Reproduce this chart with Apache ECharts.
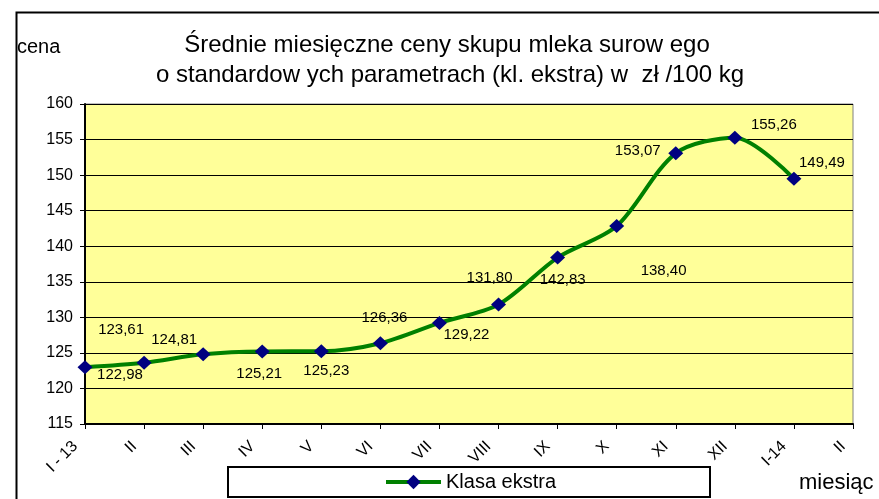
<!DOCTYPE html>
<html>
<head>
<meta charset="utf-8">
<script src="https://cdn.jsdelivr.net/npm/echarts@6/dist/echarts.min.js"></script>
<style>
html,body{margin:0;padding:0;background:#fff;}
#chart{width:879px;height:499px;}
</style>
</head>
<body>
<div id="chart"></div>
<script>
// ---- data ----
var categories = ['I - 13','II','III','IV','V','VI','VII','VIII','IX','X','XI','XII','I-14','II'];
var seriesName = 'Klasa ekstra';
var prices = [122.98, 123.61, 124.81, 125.21, 125.23, 126.36, 129.22, 131.80, 138.40, 142.83, 153.07, 155.26, 149.49];
var yTicks = {min: 115, max: 160, step: 5};
var titleLines = ['Średnie miesięczne ceny skupu mleka surow ego', 'o standardow ych parametrach (kl. ekstra) w  zł /100 kg'];
var yName = 'cena';
var xName = 'miesiąc';

// ---- label placement (layout only) ----
var labelOffsets = [[35,8],[-23,-33],[-29,-14],[-3,22],[5,20],[4,-25],[27,12],[-9,-27],[106,13],[-54,54],[-38,-2],[39,-13],[28,-16]];

var FONT = '"Liberation Sans", Arial, sans-serif';

var seriesData = prices.map(function (v, i) {
  return {
    value: v,
    label: { offset: labelOffsets[i] }
  };
});

var chart = echarts.init(document.getElementById('chart'), null, {renderer: 'canvas'});
chart.setOption({
  backgroundColor: '#ffffff',
  animation: false,
  textStyle: { fontFamily: FONT },
  grid: {
    left: 85, right: 26, top: 104, bottom: 75,
    show: true, backgroundColor: '#FFFF99', borderColor: '#808080', borderWidth: 1
  },
  graphic: [
    { type: 'rect', left: 14, top: 10, shape: {width: 864, height: 510},
      style: {fill: 'none', stroke: '#000', lineWidth: 2}, z: -1 },
    { type: 'rect', left: 227, top: 466, shape: {width: 482, height: 30},
      style: {fill: '#fff', stroke: '#000', lineWidth: 2}, z: 0 },
    { type: 'text', x: 447, y: 45, style: { text: titleLines[0], font: '24px ' + FONT, fill: '#000', textAlign: 'center', textVerticalAlign: 'middle' } },
    { type: 'text', x: 450, y: 75, style: { text: titleLines[1], font: '24px ' + FONT, fill: '#000', textAlign: 'center', textVerticalAlign: 'middle' } },
    { type: 'text', x: 17, y: 47, style: { text: yName, font: '20px ' + FONT, fill: '#000', textVerticalAlign: 'middle' } },
    { type: 'text', x: 799, y: 483, style: { text: xName, font: '22px ' + FONT, fill: '#000', textVerticalAlign: 'middle' } }
  ],
  legend: {
    data: [seriesName],
    left: 384, top: 472,
    padding: 0,
    itemWidth: 55, itemHeight: 18,
    itemGap: 6,
    lineStyle: { width: 4 },
    textStyle: { fontSize: 20, color: '#000', fontFamily: FONT, padding: [0, 0, 0, 0] },
    z: 5
  },
  xAxis: {
    type: 'category',
    data: categories,
    boundaryGap: false,
    axisLine: { lineStyle: { color: '#000', width: 2 } },
    axisTick: { show: true, length: 5, lineStyle: { color: '#000' } },
    axisLabel: { rotate: 45, fontSize: 16, color: '#000', margin: 10, interval: 0, fontFamily: FONT, padding: [0, 14, 0, 0] },
    splitLine: { show: false }
  },
  yAxis: {
    type: 'value',
    min: yTicks.min, max: yTicks.max, interval: yTicks.step,
    axisLine: { show: true, lineStyle: { color: '#000', width: 2 } },
    axisTick: { show: true, length: 5, lineStyle: { color: '#000' } },
    axisLabel: { fontSize: 16, color: '#000', margin: 12, fontFamily: FONT },
    splitLine: { show: true, lineStyle: { color: '#000', width: 1.2 } }
  },
  series: [{
    name: seriesName,
    type: 'line',
    data: seriesData,
    smooth: 0.3,
    symbol: 'diamond',
    symbolSize: [15, 14],
    itemStyle: { color: '#000080' },
    lineStyle: { color: '#008000', width: 4 },
    label: {
      show: true,
      position: 'inside',
      fontSize: 15,
      color: '#000',
      fontFamily: FONT,
      formatter: function (p) { return p.value.toFixed(2).replace('.', ','); }
    },
    z: 3
  }]
});
</script>
</body>
</html>
